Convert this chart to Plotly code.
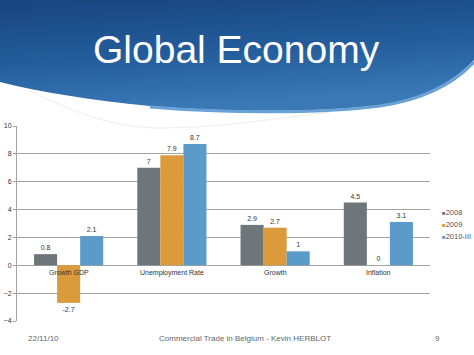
import base64
import plotly.graph_objects as go

# ---- data ----
categories = ["Growth GDP", "Unemployment Rate", "Growth", "Inflation"]
series_names = ["2008", "2009", "2010-III"]
values_2008 = [0.8, 7, 2.9, 4.5]
values_2009 = [-2.7, 7.9, 2.7, 0]
values_2010 = [2.1, 8.7, 1, 3.1]
y_ticks = [-4, -2, 0, 2, 4, 6, 8, 10]

colors = ["#6e7679", "#db9a3b", "#5a9bca"]
all_values = [values_2008, values_2009, values_2010]

W, H = 474, 355
ML, MR, MT, MB = 17, 44, 126, 34
PW, PH = W - ML - MR, H - MT - MB


def px(xp):
    return (xp - ML) / PW


def py(yp):
    return (H - MB - yp) / PH


fig = go.Figure()
for name, vals, col in zip(series_names, all_values, colors):
    fig.add_trace(go.Bar(
        x=categories, y=vals, name=name,
        marker=dict(color=col, line=dict(width=0)),
        text=[f"{v:g}" for v in vals], textposition="outside",
        textfont=dict(size=7, color="#333333", family="Liberation Sans"),
        constraintext="none", cliponaxis=False, showlegend=False,
    ))

# banner as svg image
svg = """<svg xmlns='http://www.w3.org/2000/svg' width='474' height='140' viewBox='0 0 474 140' preserveAspectRatio='none'>
<defs>
<linearGradient id='g' x1='0' y1='0' x2='0.25' y2='1'>
<stop offset='0' stop-color='#17457f'/>
<stop offset='0.55' stop-color='#245d9c'/>
<stop offset='1' stop-color='#3a78b6'/>
</linearGradient>
</defs>
<path d='M28,90 C70,110 110,128 160,128 C220,128 280,118 330,112' fill='none' stroke='#eeeeee' stroke-width='1'/>
<path d='M0,0 H474 V60 C452,84 420,99 380,105 C320,113 220,112 150,106 C90,100 40,92 0,82 Z' fill='url(#g)'/>
<path d='M150,107 C220,113 320,114 380,106 C420,100 452,86 474,62' fill='none' stroke='#6aa2d6' stroke-width='3'/>
</svg>"""
src = "data:image/svg+xml;base64," + base64.b64encode(svg.encode()).decode()
fig.add_layout_image(dict(
    source=src, xref="paper", yref="paper",
    x=px(0), y=py(0), sizex=W / PW, sizey=140 / PH,
    xanchor="left", yanchor="top", sizing="stretch", layer="below",
))

ann = []
ann.append(dict(text="Global Economy", x=px(236.5), y=py(49), xref="paper", yref="paper",
                showarrow=False, xanchor="center", yanchor="middle",
                font=dict(size=39, color="white", family="Liberation Sans")))
for c in categories:
    ann.append(dict(text=c, x=c, y=0, xref="x", yref="y", showarrow=False,
                    xanchor="center", yanchor="top", yshift=-2,
                    font=dict(size=7, color="#333333", family="Liberation Sans")))
# legend
for i, (name, col) in enumerate(zip(series_names, colors)):
    ann.append(dict(text=f"<span style='color:{col};font-size:6px'>■</span>{name}",
                    x=px(440), y=py(212 + 12 * i), xref="paper", yref="paper",
                    showarrow=False, xanchor="left", yanchor="middle",
                    font=dict(size=7.5, color="#555555", family="Liberation Sans")))
# footer
foot_font = dict(size=8, color="#666666", family="Liberation Sans")
ann.append(dict(text="22/11/10", x=px(43), y=py(338), xref="paper", yref="paper",
                showarrow=False, xanchor="center", yanchor="middle", font=foot_font))
ann.append(dict(text="Commercial Trade in Belgium - Kevin HERBLOT", x=px(245), y=py(338),
                xref="paper", yref="paper", showarrow=False, xanchor="center",
                yanchor="middle", font=foot_font))
ann.append(dict(text="9", x=px(437), y=py(338), xref="paper", yref="paper",
                showarrow=False, xanchor="center", yanchor="middle", font=foot_font))

fig.update_layout(
    width=W, height=H,
    margin=dict(l=ML, r=MR, t=MT, b=MB, pad=0, autoexpand=False),
    paper_bgcolor="white", plot_bgcolor="white",
    barmode="group", bargap=0.33, bargroupgap=0,
    showlegend=False,
    annotations=ann,
    font=dict(family="Liberation Sans"),
    xaxis=dict(type="category", range=[-0.5, 3.5], showticklabels=False,
               showgrid=False, showline=False, zeroline=False, ticks="",
               automargin=False),
    yaxis=dict(range=[-4, 10], tickvals=y_ticks, showgrid=True, gridcolor="#a3a3a3",
               gridwidth=1, zeroline=True, zerolinecolor="#a3a3a3", zerolinewidth=1,
               showline=True, linecolor="#a3a3a3", linewidth=1,
               ticks="outside", ticklen=3, tickcolor="#a3a3a3", automargin=False,
               tickfont=dict(size=7, color="#333333", family="Liberation Sans")),
)

fig.write_html("out.html")
